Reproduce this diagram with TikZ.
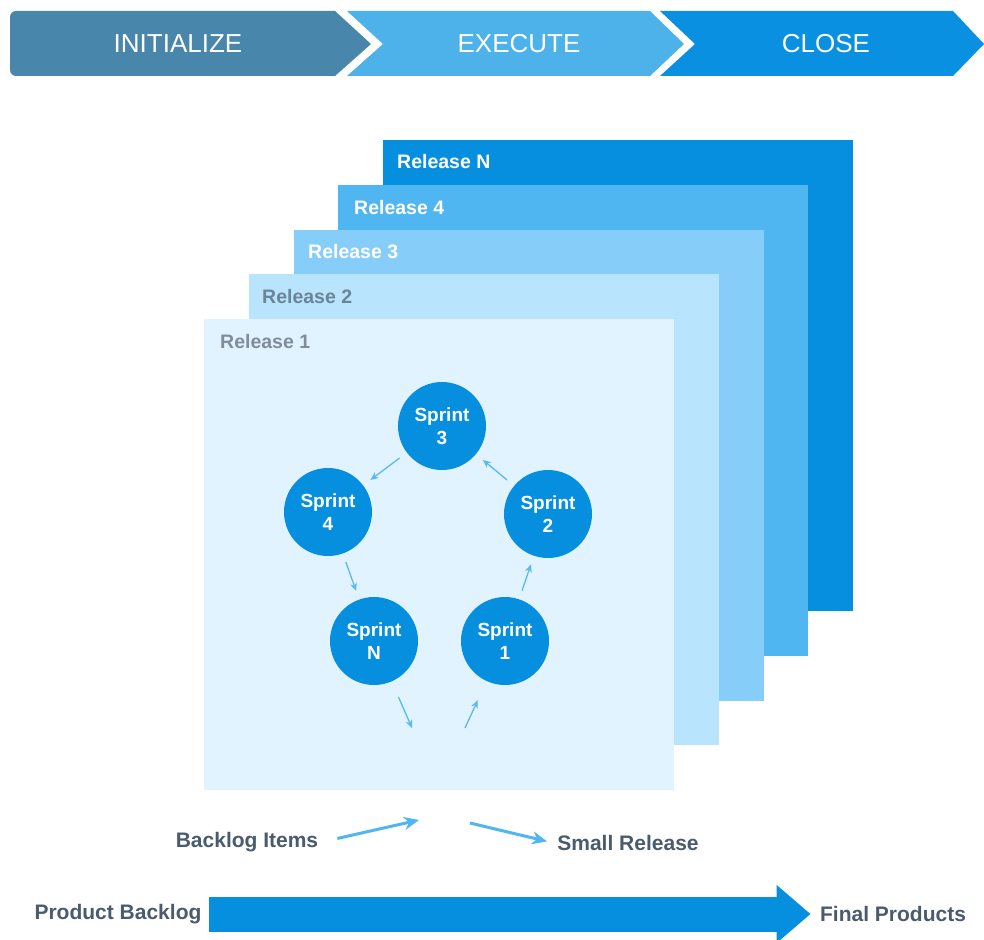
\documentclass[tikz,border=0pt]{standalone}
\usepackage{fontspec}
\setmainfont{Liberation Sans}
\usetikzlibrary{arrows.meta}
\definecolor{phaseone}{HTML}{4886AC}
\definecolor{phasetwo}{HTML}{4DB1EA}
\definecolor{phasethree}{HTML}{0A90E0}
\definecolor{relN}{HTML}{078FDF}
\definecolor{relfour}{HTML}{4FB6F1}
\definecolor{relthree}{HTML}{86CEF9}
\definecolor{reltwo}{HTML}{B9E4FD}
\definecolor{relone}{HTML}{E1F3FE}
\definecolor{darktext}{HTML}{4A5B6E}
\definecolor{loopblue}{HTML}{5CB9F0}
\begin{document}
\begin{tikzpicture}[x=1pt, y=-1pt,
  phasetext/.style={text=white, font=\fontsize{26}{30}\selectfont},
  reltext/.style={anchor=west, inner sep=0pt, font=\bfseries\fontsize{19.5}{22}\selectfont},
  sprint/.style={circle, fill=relN, minimum size=88pt, inner sep=0pt, text=white, align=center, font=\bfseries\fontsize{19}{23}\selectfont},
  loop/.style={draw=loopblue, line width=1.3pt, shorten <=9pt, shorten >=9pt, -{Stealth[length=8pt,width=7pt]}},
  flow/.style={draw=relfour, line width=3pt, -{Stealth[length=15pt,width=13pt]}},
  lbl/.style={text=darktext, font=\bfseries\fontsize{21}{24}\selectfont}]
\useasboundingbox (0,0) rectangle (984,939);
%% phases
\fill[phaseone] (371,44) -- (335,76) [rounded corners=6pt] -- (10,76) -- (10,11) [sharp corners] -- (335,11) -- cycle;
\fill[phasetwo] (347,11) -- (650,11) -- (684,44) -- (650,76) -- (347,76) -- (383,44) -- cycle;
\fill[phasethree] (660,11) -- (953,11) -- (984,44) -- (953,76) -- (660,76) -- (695,44) -- cycle;
\node[phasetext] (init) at (178,44) {INITIALIZE};
\node[phasetext] (exec) at (519,44) {EXECUTE};
\node[phasetext] (close) at (826,44) {CLOSE};
%% releases
\foreach \i/\c in {4/relN,3/relfour,2/relthree,1/reltwo,0/relone}
  \fill[\c] (204+44.75*\i,319-44.75*\i) rectangle ++(470,471);
\node[reltext, text=white] (relN) at (397,162) {Release N};
\node[reltext, text=white] (rel4) at (354,208) {Release 4};
\node[reltext, text=white] (rel3) at (308,252) {Release 3};
\node[reltext, text=black!20!reltwo!45!darktext] (rel2) at (262,297) {Release 2};
\node[reltext, text=darktext!70] (rel1) at (220,342) {Release 1};
%% sprints
\node[sprint] (s3) at (442,426) {Sprint\\3};
\node[sprint] (s4) at (328,512) {Sprint\\4};
\node[sprint] (s2) at (548,514) {Sprint\\2};
\node[sprint] (sN) at (374,641) {Sprint\\N};
\node[sprint] (s1) at (505,641) {Sprint\\1};
\coordinate (down) at (412,728);
\coordinate (up) at (465,728);
\draw[loop] (s3) -- (s4);
\draw[loop] (s2) -- (s3);
\draw[loop] (s4) -- (sN);
\draw[loop] (s1) -- (s2);
\draw[loop, shorten <=17pt, shorten >=0pt] (sN) -- (down);
\draw[loop, shorten <=0pt, shorten >=21pt] (up) -- (s1);
%% backlog and release
\node[lbl] (items) at (247,842) {Backlog Items};
\node[lbl] (small) at (628,843) {Small Release};
\coordinate (intake) at (419,820);
\coordinate (outlet) at (470,823);
\draw[flow, shorten <=16pt] (items.east) -- (intake);
\draw[flow, shorten >=7pt] (outlet) -- (small.west);
\node[lbl] (pb) at (118,914) {Product Backlog};
\node[lbl] (fp) at (893,914) {Final Products};
\draw[relN, line width=35pt, shorten <=4pt, shorten >=6pt, -{Triangle[length=34pt,width=56pt]}] (pb.east) -- (fp.west);
\end{tikzpicture}
\end{document}
